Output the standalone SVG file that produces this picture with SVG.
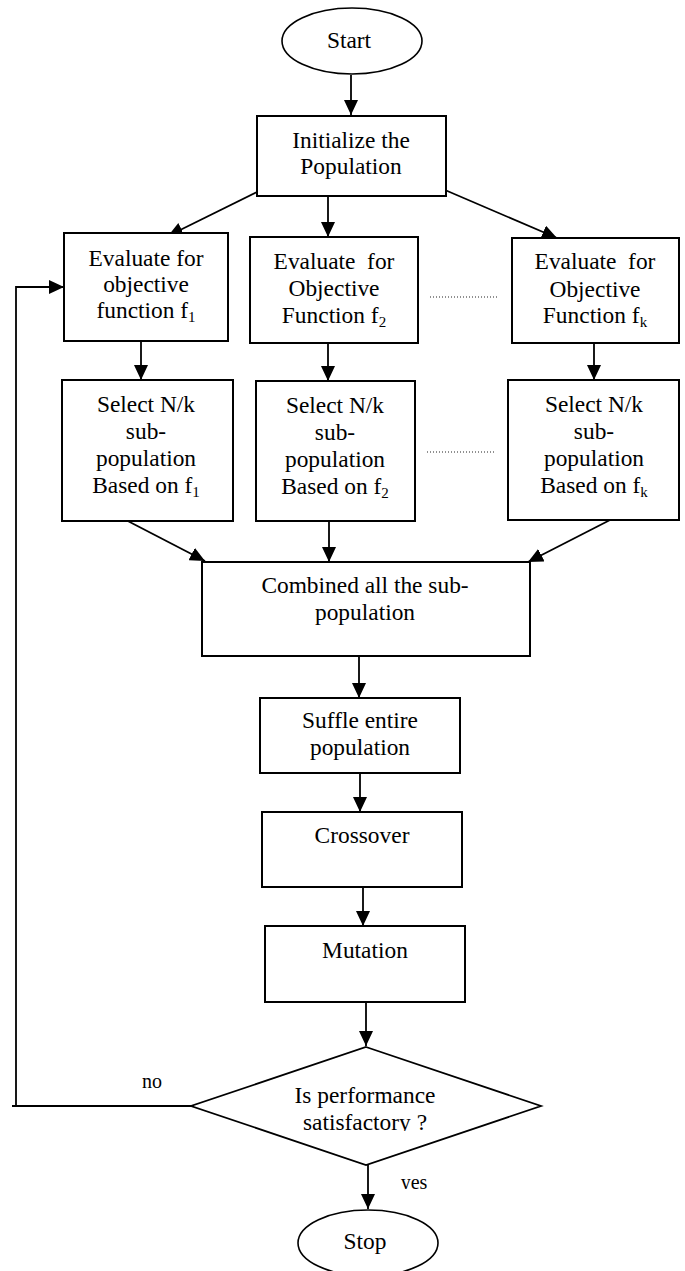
<svg xmlns="http://www.w3.org/2000/svg" width="685" height="1271" viewBox="0 0 685 1271">
<style>
.box{fill:#fff;stroke:#000;stroke-width:2}
.ln{fill:none;stroke:#000;stroke-width:1.8}
.dot{fill:none;stroke:#222;stroke-width:1.2;stroke-dasharray:1 2}
.t{font-family:"Liberation Serif","Times New Roman",serif;font-size:23.4px;text-anchor:middle;fill:#000}
.s{font-size:15px}
.lbl{font-size:20px}
</style>
<defs>
<marker id="ah" markerUnits="userSpaceOnUse" markerWidth="16" markerHeight="14" refX="15" refY="7" orient="auto">
<path d="M0,0 L15,7 L0,14 z" fill="#000"/>
</marker>
<clipPath id="clipD"><rect x="0" y="0" width="685" height="1131"/></clipPath>
<clipPath id="clipY"><rect x="0" y="0" width="685" height="1189"/></clipPath>
</defs>
<rect width="685" height="1271" fill="#fff"/>

<g id="connectors">
<path class="ln" marker-end="url(#ah)" d="M351,75 L351,115"/>
<path class="ln" marker-end="url(#ah)" d="M257,192 L168,236"/>
<path class="ln" marker-end="url(#ah)" d="M328,196 L328,237"/>
<path class="ln" marker-end="url(#ah)" d="M445,190 L557,238"/>
<path class="ln" marker-end="url(#ah)" d="M141,341 L141,380"/>
<path class="ln" marker-end="url(#ah)" d="M328,343 L328,381"/>
<path class="ln" marker-end="url(#ah)" d="M594,343 L594,380"/>
<path class="ln" marker-end="url(#ah)" d="M122,518 L205,561"/>
<path class="ln" marker-end="url(#ah)" d="M329,521 L329,562"/>
<path class="ln" marker-end="url(#ah)" d="M612,519 L528,562"/>
<path class="ln" marker-end="url(#ah)" d="M359,656 L359,698"/>
<path class="ln" marker-end="url(#ah)" d="M360,773 L360,812"/>
<path class="ln" marker-end="url(#ah)" d="M363,887 L363,926"/>
<path class="ln" marker-end="url(#ah)" d="M366,1002 L366,1046"/>
<path class="ln" marker-end="url(#ah)" d="M368,1165 L368,1209"/>
<path class="ln" d="M12,1106 L191,1106"/>
<path class="ln" marker-end="url(#ah)" d="M16,1107 L16,287 L64,287"/>
<path class="dot" d="M430,297 L498,297"/>
<path class="dot" d="M427,452 L494,452"/>
</g>

<g id="start">
<ellipse cx="352" cy="41" rx="70" ry="33" fill="#fff" stroke="#000" stroke-width="1.6"/>
<text class="t" x="349" y="48">Start</text>
</g>

<g id="init">
<rect class="box" x="257" y="116" width="189" height="80"/>
<text class="t" x="351" y="148">Initialize the</text>
<text class="t" x="351" y="174">Population</text>
</g>

<g id="eval1">
<rect class="box" x="64" y="233" width="164" height="108"/>
<text class="t" x="146" y="266">Evaluate for</text>
<text class="t" x="146" y="292">objective</text>
<text class="t" x="146" y="318">function f<tspan class="s" dy="4">1</tspan></text>
</g>

<g id="eval2">
<rect class="box" x="250" y="237" width="168" height="106"/>
<text class="t" x="334" y="269" xml:space="preserve">Evaluate  for</text>
<text class="t" x="334" y="296">Objective</text>
<text class="t" x="334" y="323">Function f<tspan class="s" dy="4">2</tspan></text>
</g>

<g id="evalk">
<rect class="box" x="512" y="238" width="167" height="105"/>
<text class="t" x="595" y="269" xml:space="preserve">Evaluate  for</text>
<text class="t" x="595" y="297">Objective</text>
<text class="t" x="595" y="323">Function f<tspan class="s" dy="4">k</tspan></text>
</g>

<g id="select1">
<rect class="box" x="62" y="380" width="171" height="141"/>
<text class="t" x="146" y="412">Select N/k</text>
<text class="t" x="146" y="439">sub-</text>
<text class="t" x="146" y="466">population</text>
<text class="t" x="146" y="493">Based on f<tspan class="s" dy="4">1</tspan></text>
</g>

<g id="select2">
<rect class="box" x="256" y="381" width="159" height="140"/>
<text class="t" x="335" y="413">Select N/k</text>
<text class="t" x="335" y="440">sub-</text>
<text class="t" x="335" y="467">population</text>
<text class="t" x="335" y="494">Based on f<tspan class="s" dy="4">2</tspan></text>
</g>

<g id="selectk">
<rect class="box" x="508" y="380" width="171" height="140"/>
<text class="t" x="594" y="412">Select N/k</text>
<text class="t" x="594" y="439">sub-</text>
<text class="t" x="594" y="466">population</text>
<text class="t" x="594" y="493">Based on f<tspan class="s" dy="4">k</tspan></text>
</g>

<g id="combined">
<rect class="box" x="202" y="562" width="328" height="94"/>
<text class="t" x="365" y="593">Combined all the sub-</text>
<text class="t" x="365" y="620">population</text>
</g>

<g id="shuffle">
<rect class="box" x="260" y="698" width="200" height="75"/>
<text class="t" x="360" y="728">Suffle entire</text>
<text class="t" x="360" y="755">population</text>
</g>

<g id="crossover">
<rect class="box" x="262" y="812" width="200" height="75"/>
<text class="t" x="362" y="843">Crossover</text>
</g>

<g id="mutation">
<rect class="box" x="265" y="926" width="200" height="76"/>
<text class="t" x="365" y="958">Mutation</text>
</g>

<g id="decision">
<polygon points="366,1047 541,1106 366,1165 191,1106" fill="#fff" stroke="#000" stroke-width="1.8"/>
<text class="t" x="365" y="1103">Is performance</text>
<text class="t" x="365" y="1130" clip-path="url(#clipD)">satisfactory ?</text>
</g>

<g id="labels">
<text class="t lbl" x="152" y="1088">no</text>
<text class="t lbl" x="414" y="1189" clip-path="url(#clipY)">yes</text>
</g>

<g id="stop">
<ellipse cx="368" cy="1243" rx="70" ry="33" fill="#fff" stroke="#000" stroke-width="1.6"/>
<text class="t" x="365" y="1249">Stop</text>
</g>
</svg>
